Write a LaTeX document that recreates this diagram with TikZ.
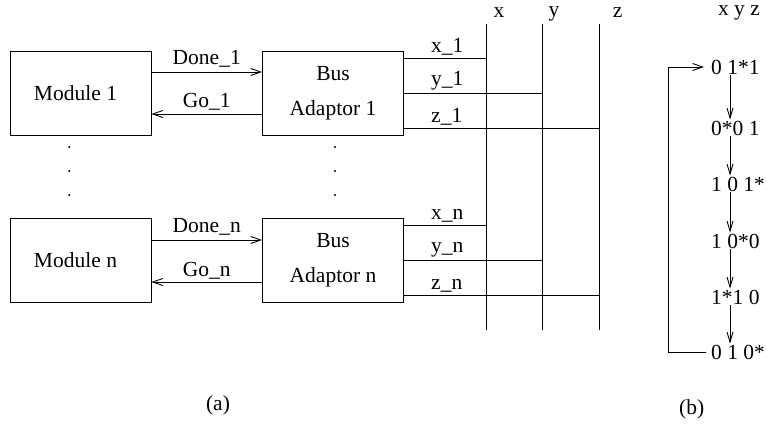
\documentclass[tikz,border=0pt]{standalone}
\usepackage{fontspec}
\setmainfont{Liberation Serif}
\usetikzlibrary{arrows.meta}
\begin{document}
\begin{tikzpicture}[x=1pt,y=-1pt,
  every node/.style={font=\fontsize{21.5}{35}\selectfont, inner sep=1pt},
  box/.style={draw, line width=0.9pt, minimum width=141pt, minimum height=84pt, align=center},
  wire/.style={line width=0.9pt},
  arr/.style={wire, -{Straight Barb[length=10pt,width=7pt,line width=0.9pt]}},
  dot/.style={fill=black},
  wlab/.style={anchor=south west, inner sep=0pt, yshift=3pt}
]
\useasboundingbox (0,0) rectangle (767,427);
% boxes
\node[box] (m1) at (80.5,93) {Module 1\hspace*{10pt}};
\node[box] (b1) at (333,93.5) {Bus\\Adaptor 1};
\node[box] (mn) at (80.5,260) {Module n\hspace*{10pt}};
\node[box] (bn) at (333,260.5) {Bus\\Adaptor n};
% module <-> adaptor
\draw[arr] ([yshift=21pt]m1.east) -- ([yshift=21pt]b1.west |- m1.east) node[midway, yshift=13pt] {Done\_1};
\draw[arr] ([yshift=-21pt]b1.west |- m1.east) -- ([yshift=-21pt]m1.east) node[midway, yshift=12pt] {Go\_1};
\draw[arr] ([yshift=20pt]mn.east) -- ([yshift=20pt]bn.west |- mn.east) node[midway, yshift=13pt] {Done\_n};
\draw[arr] ([yshift=-22pt]bn.west |- mn.east) -- ([yshift=-22pt]mn.east) node[midway, yshift=11pt] {Go\_n};
% dots
\foreach \yy in {147,171,195} {
  \fill[dot] (69.3,\yy) circle (1.1pt);
  \fill[dot] (335,\yy) circle (1.1pt);
}
% buses
\coordinate (xt) at (486.7,24); \coordinate (xb) at (486.7,330);
\coordinate (yt) at (542.7,24); \coordinate (yb) at (542.7,330);
\coordinate (zt) at (599,24);   \coordinate (zb) at (599,330);
\coordinate (lc) at (431,0);
\draw[wire] (xt) -- (xb);
\draw[wire] (yt) -- (yb);
\draw[wire] (zt) -- (zb);
\node[inner sep=0pt] (lx) at (499,13) {x};
\node[inner sep=0pt] (ly) at (554,14) {y};
\node[inner sep=0pt] (lz) at (617.7,13) {z};
% adaptor 1 wires
\draw[wire] ([yshift=35pt]b1.east) coordinate (p1) -- (p1 -| xt);
\draw[wire] (b1.east) coordinate (p2) -- (p2 -| yt);
\draw[wire] ([yshift=-34.5pt]b1.east) coordinate (p3) -- (p3 -| zt);
\node[wlab] (l1x) at (p1 -| lc) {x\_1};
\node[wlab] (l1y) at (p2 -| lc) {y\_1};
\node[wlab] (l1z) at (p3 -| lc) {z\_1};
% adaptor n wires
\draw[wire] ([yshift=35pt]bn.east) coordinate (q1) -- (q1 -| xt);
\draw[wire] (bn.east) coordinate (q2) -- (q2 -| yt);
\draw[wire] ([yshift=-35pt]bn.east) coordinate (q3) -- (q3 -| zt);
\node[wlab] (lnx) at (q1 -| lc) {x\_n};
\node[wlab] (lny) at (q2 -| lc) {y\_n};
\node[wlab] (lnz) at (q3 -| lc) {z\_n};
% captions
\node (ca) at (218,405) {(a)};
\node (cb) at (691.7,409) {(b)};
% state sequence
\node (hdr) at (739,13) {x y z};
\node[anchor=west] (s1) at (710,67) {0 1*1};
\node[anchor=west] (s2) at (710,128) {0*0 1};
\node[anchor=west] (s3) at (710,184) {1 0 1*};
\node[anchor=west] (s4) at (710,241) {1 0*0};
\node[anchor=west] (s5) at (710,297) {1*1 0};
\node[anchor=west] (s6) at (710,352) {0 1 0*};
\coordinate (ax) at (730,0);
\tikzset{darr/.style={wire, -{Straight Barb[length=10pt,width=6pt,line width=0.9pt]}}}
\draw[darr] (s1.south -| ax) -- (s2.north -| ax);
\draw[darr] (s2.south -| ax) -- (s3.north -| ax);
\draw[darr] (s3.south -| ax) -- (s4.north -| ax);
\draw[darr] (s4.south -| ax) -- (s5.north -| ax);
\draw[darr] (s5.south -| ax) -- (s6.north -| ax);
\coordinate (lp) at (668,0);
\draw[arr] ([xshift=-4pt]s6.west) -- (s6.west -| lp) -- (s1.west -| lp) -- ([xshift=-6pt]s1.west);
\end{tikzpicture}
\end{document}
